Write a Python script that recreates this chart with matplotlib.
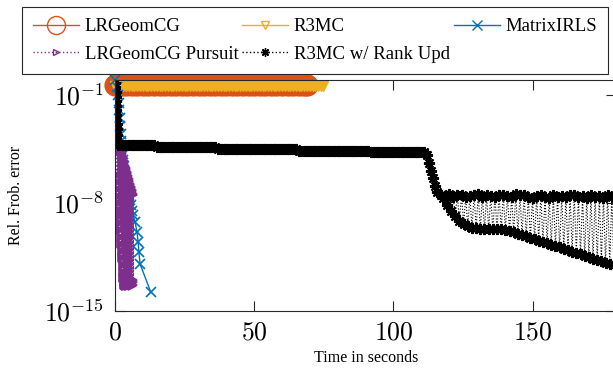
import numpy as np
import matplotlib.pyplot as plt
from matplotlib.lines import Line2D

plt.rcParams['mathtext.fontset'] = 'cm'

# time in seconds / log10 of relative Frobenius error
lrg_t = [0, 2, 4, 6, 8, 10, 12, 14, 16, 18, 20, 22, 24, 26, 28, 30, 32, 34,
         36, 38, 40, 42, 44, 46, 48, 50, 52, 54, 56, 58, 60, 62, 64, 66, 68, 69]
lrg_err = [-0.37, -0.38, -0.38, -0.38, -0.38, -0.38, -0.38, -0.38, -0.38,
           -0.38, -0.38, -0.38, -0.38, -0.38, -0.38, -0.38, -0.38, -0.38,
           -0.38, -0.38, -0.38, -0.38, -0.38, -0.38, -0.38, -0.38, -0.38,
           -0.38, -0.38, -0.38, -0.38, -0.38, -0.38, -0.38, -0.38, -0.38]

r3_t = [0, 1, 2, 3, 4, 5, 6, 7, 8, 9, 10, 11, 12, 13, 14, 15, 16, 17, 18, 19,
        20, 21, 22, 23, 24, 25, 26, 27, 28, 29, 30, 31, 32, 33, 34, 35, 36, 37,
        38, 39, 40, 41, 42, 43, 44, 45, 46, 47, 48, 49, 50, 51, 52, 53, 54, 55,
        56, 57, 58, 59, 60, 61, 62, 63, 64, 65, 66, 67, 68, 69, 70, 71, 72, 73,
        74, 74.7]
r3_err = [-0.4, -0.41, -0.41, -0.41, -0.41, -0.41, -0.41, -0.41, -0.41, -0.41,
          -0.41, -0.41, -0.41, -0.41, -0.41, -0.41, -0.41, -0.41, -0.41, -0.41,
          -0.41, -0.41, -0.41, -0.41, -0.41, -0.41, -0.41, -0.41, -0.41, -0.41,
          -0.41, -0.41, -0.41, -0.41, -0.41, -0.41, -0.41, -0.41, -0.41, -0.41,
          -0.41, -0.41, -0.41, -0.41, -0.41, -0.41, -0.41, -0.41, -0.41, -0.41,
          -0.41, -0.41, -0.41, -0.41, -0.41, -0.41, -0.41, -0.41, -0.41, -0.41,
          -0.41, -0.41, -0.41, -0.41, -0.41, -0.41, -0.41, -0.41, -0.41, -0.41,
          -0.41, -0.41, -0.41, -0.41, -0.41, -0.41]

irls_t = [0.0, 0.8, 1.1, 1.3, 1.5, 1.7, 1.9, 2.1, 2.3, 2.5, 2.7, 2.9, 3.2, 3.6,
          4.0, 4.3, 4.7, 5.1, 5.4, 5.8, 6.2, 6.5, 7.2, 7.9, 8.3, 8.6, 9.0, 12.9]
irls_err = [0.0, -0.5, -1.0, -1.5, -2.0, -2.5, -3.0, -3.5, -4.0, -4.4, -4.8,
            -5.2, -5.6, -6.0, -6.4, -6.7, -7.1, -7.5, -7.8, -8.1, -8.5, -8.8,
            -9.2, -9.9, -10.5, -11.2, -11.95, -13.8]

# LRGeomCG Pursuit: first iterations, then it swings between two envelopes
pur_head_t = [0.0, 0.15, 0.3, 0.45, 0.6]
pur_head_err = [-0.3, -1.2, -2.1, -3.0, -3.7]
pur_hi_t = [0.7, 0.85, 1.0, 1.15, 1.3, 1.45, 1.6, 1.75, 1.9, 2.05, 2.2, 2.35,
            2.5, 2.65, 2.8, 2.95, 3.1, 3.25, 3.4, 3.55, 3.7, 3.85, 4.0, 4.15,
            4.3, 4.45, 4.6, 4.75, 4.9, 5.05, 5.2, 5.35, 5.5, 5.65, 5.8, 5.95,
            6.1, 6.25, 6.4, 6.55]
pur_hi_err = [-3.9, -3.9, -3.9, -4.0, -4.1, -4.19, -4.29, -4.39, -4.49, -4.59,
              -4.69, -4.78, -4.88, -4.98, -5.08, -5.18, -5.27, -5.37, -5.47,
              -5.57, -5.67, -5.77, -5.86, -5.96, -6.06, -6.16, -6.26, -6.35,
              -6.45, -6.55, -6.65, -6.75, -6.85, -6.94, -7.04, -7.14, -7.24,
              -7.34, -7.43, -7.5]
pur_lo_t = [0.775, 0.925, 1.075, 1.225, 1.375, 1.525, 1.675, 1.825, 1.975,
            2.125, 2.275, 2.425, 2.575, 2.725, 2.875, 3.025, 3.175, 3.325,
            3.475, 3.625, 3.775, 3.925, 4.075, 4.225, 4.375, 4.525, 4.675,
            4.825, 4.975, 5.125, 5.275, 5.425, 5.575, 5.725, 5.875, 6.025,
            6.175, 6.325, 6.475, 6.625]
pur_lo_err = [-6.2, -6.65, -7.09, -7.54, -7.98, -8.43, -8.87, -9.32, -9.77,
              -10.21, -10.66, -11.1, -11.55, -11.99, -12.44, -12.88, -13.3,
              -13.2, -13.4, -13.3, -13.1, -13.3, -13.4, -13.2, -13.3, -13.1,
              -13.35, -13.2, -13.3, -13.4, -13.2, -13.3, -13.1, -13.3, -13.25,
              -13.4, -13.2, -13.3, -13.15, -13.0]

# R3MC w/ Rank Upd: fast start, long plateau, drop, then rank-update swings
rk_head_t = [0.1, 0.15, 0.2, 0.25, 0.3, 0.35, 0.4, 0.45, 0.5, 0.55, 0.6, 0.7,
             0.8]
rk_head_err = [-0.2, -0.5, -0.8, -1.1, -1.4, -1.7, -2.0, -2.3, -2.6, -2.9,
               -3.2, -3.6, -4.0]
rk_plat_t = [1, 2, 3, 4, 5, 6, 7, 8, 9, 10, 11, 12, 13, 14, 15, 16, 17, 18,
             19, 20, 21, 22, 23, 24, 25, 26, 27, 28, 29, 30, 31, 32, 33, 34,
             35, 36, 37, 38, 39, 40, 41, 42, 43, 44, 45, 46, 47, 48, 49, 50,
             51, 52, 53, 54, 55, 56, 57, 58, 59, 60, 61, 62, 63, 64, 65, 66,
             67, 68, 69, 70, 71, 72, 73, 74, 75, 76, 77, 78, 79, 80, 81, 82,
             83, 84, 85, 86, 87, 88, 89, 90, 91, 92, 93, 94, 95, 96, 97, 98,
             99, 100, 101, 102, 103, 104, 105, 106, 107, 108, 109, 110, 111,
             112, 112.8, 113.5, 114.2, 115, 115.8]
rk_plat_err = [-4.25, -4.25, -4.25, -4.25, -4.25, -4.25, -4.25, -4.25, -4.25,
               -4.25, -4.25, -4.25, -4.25, -4.25,
               -4.37, -4.37, -4.37, -4.37, -4.37, -4.37, -4.37, -4.37, -4.37,
               -4.37, -4.37, -4.37, -4.37, -4.37, -4.37, -4.37, -4.37, -4.37,
               -4.37, -4.37, -4.37, -4.37,
               -4.5, -4.5, -4.5, -4.5, -4.5, -4.5, -4.5, -4.5, -4.5, -4.5,
               -4.5, -4.5, -4.5, -4.5, -4.5, -4.5, -4.5, -4.5, -4.5, -4.5,
               -4.5, -4.5, -4.5, -4.5, -4.5, -4.5, -4.5, -4.5, -4.5,
               -4.62, -4.62, -4.62, -4.62, -4.62, -4.62, -4.62, -4.62, -4.62,
               -4.62, -4.62, -4.62, -4.62, -4.62, -4.62, -4.62, -4.62, -4.62,
               -4.62, -4.62, -4.62, -4.62, -4.62, -4.62, -4.62, -4.62,
               -4.69, -4.69, -4.69, -4.69, -4.69, -4.69, -4.69, -4.69, -4.69,
               -4.69, -4.69, -4.69, -4.69, -4.69, -4.69, -4.69, -4.69, -4.69,
               -4.69, -4.72,
               -4.9, -5.4, -5.9, -6.4, -6.9, -7.3]
rk_hi_t = [117, 118.5, 120, 121.5, 123, 124.5, 126, 127.5, 129, 130.5, 132,
           133.5, 135, 136.5, 138, 139.5, 141, 142.5, 144, 145.5, 147, 148.5,
           150, 151.5, 153, 154.5, 156, 157.5, 159, 160.5, 162, 163.5, 165,
           166.5, 168, 169.5, 171, 172.5, 174, 175.5, 177, 178.5]
rk_hi_err = [-7.45, -7.55, -7.4, -7.6, -7.5, -7.45, -7.6, -7.55, -7.5, -7.4,
             -7.6, -7.5, -7.55, -7.6, -7.5, -7.45, -7.55, -7.6, -7.4, -7.5,
             -7.45, -7.6, -7.7, -7.55, -7.5, -7.6, -7.65, -7.5, -7.6, -7.55,
             -7.6, -7.5, -7.45, -7.6, -7.55, -7.7, -7.5, -7.6, -7.55, -7.65,
             -7.5, -7.6]
rk_lo_t = [117.75, 119.25, 120.75, 122.25, 123.75, 125.25, 126.75, 128.25,
           129.75, 131.25, 132.75, 134.25, 135.75, 137.25, 138.75, 140.25,
           141.75, 143.25, 144.75, 146.25, 147.75, 149.25, 150.75, 152.25,
           153.75, 155.25, 156.75, 158.25, 159.75, 161.25, 162.75, 164.25,
           165.75, 167.25, 168.75, 170.25, 171.75, 173.25, 174.75, 176.25,
           177.75, 179.25]
rk_lo_err = [-7.7, -8.1, -8.53, -8.85, -9.15, -9.37, -9.52, -9.62, -9.65,
             -9.68, -9.7, -9.7, -9.7, -9.7, -9.7, -9.72, -9.8, -9.89, -9.98,
             -10.07, -10.16, -10.25, -10.34, -10.43, -10.52, -10.61, -10.7,
             -10.79, -10.88, -10.97, -11.06, -11.15, -11.24, -11.33, -11.42,
             -11.51, -11.6, -11.69, -11.78, -11.87, -11.96, -12.05]

labels = ['LRGeomCG', 'R3MC', 'MatrixIRLS', 'LRGeomCG Pursuit',
          'R3MC w/ Rank Upd']
xticks = [0, 50, 100, 150]
xticklabels = [r'$0$', r'$50$', r'$100$', r'$150$']
yticks = [1e-15, 1e-8, 1e-1]
yticklabels = [r'$10^{-15}$', r'$10^{-8}$', r'$10^{-1}$']

c_lrg = '#D95319'
c_r3 = '#EDB120'
c_irls = '#0072BD'
c_pur = '#7E2F8E'
c_ax = '#262626'


def zig(a, b):
    return np.ravel(np.column_stack((a, b)))


pur_t = np.concatenate((pur_head_t, zig(pur_hi_t, pur_lo_t)))
pur_err = np.concatenate((pur_head_err, zig(pur_hi_err, pur_lo_err)))
rk_t = np.concatenate((rk_head_t, rk_plat_t, zig(rk_hi_t, rk_lo_t)))
rk_err = np.concatenate((rk_head_err, rk_plat_err, zig(rk_hi_err, rk_lo_err)))

fig = plt.figure(figsize=(6.13, 3.68), dpi=100)
ax = fig.add_axes([115 / 613, 1 - 311 / 368, 501 / 613, 231.4 / 368])

ax.plot(lrg_t, 10.0 ** np.array(lrg_err), color=c_lrg, lw=1, marker='o',
        ms=15, mfc=c_lrg, mec=c_lrg, clip_on=False)
ax.plot(r3_t, 10.0 ** np.array(r3_err), color=c_r3, lw=1, marker='v',
        ms=6.5, mfc=c_r3, mec=c_r3, clip_on=False)
ax.plot(irls_t, 10.0 ** np.array(irls_err), color=c_irls, lw=1, marker='x',
        ms=7, mew=1.2, clip_on=False)
ax.plot(pur_t, 10.0 ** pur_err, color=c_pur, lw=1, ls=':', marker='>',
        ms=5.5, mfc=c_pur, mew=1.2)
ax.plot(rk_t, 10.0 ** rk_err, color='k', lw=0.8, ls=':', marker=(8, 2, 0),
        ms=8, mew=1.5)

ax.set_yscale('log')
ax.set_xlim(0, 180)
ax.set_ylim(1e-15, 1e0)
ax.set_xticks(xticks)
ax.set_xticklabels(xticklabels)
ax.set_yticks(yticks)
ax.set_yticklabels(yticklabels)
ax.minorticks_off()
ax.tick_params(direction='in', length=7, width=0.8, color=c_ax,
               labelcolor='black', labelsize=18.5, top=True, right=True)
ax.tick_params(axis='x', pad=6)
ax.tick_params(axis='y', pad=8)
for s in ax.spines.values():
    s.set_color(c_ax)
    s.set_linewidth(0.8)

ax.set_xlabel('Time in seconds', family='Liberation Serif', fontsize=11.5,
              va='center')
ax.set_ylabel('Rel. Frob. error', family='Liberation Serif', fontsize=11.5,
              va='center')
ax.xaxis.set_label_coords((366 - 115) / 501, (311 - 358) / 231.4)
ax.yaxis.set_label_coords((16 - 115) / 501, 0.5)

handles = [
    Line2D([], [], color=c_lrg, lw=1, marker='o', ms=13, mfc='none'),
    Line2D([], [], color=c_r3, lw=1, marker='v', ms=6, mfc='none'),
    Line2D([], [], color=c_irls, lw=1, marker='x', ms=7),
    Line2D([], [], color=c_pur, lw=1, ls=':', marker='>', ms=5, mfc='none'),
    Line2D([], [], color='k', lw=1, ls=':', marker=(8, 2, 0), ms=6),
]
order = [0, 3, 1, 4, 2]
leg = fig.legend([handles[i] for i in order], [labels[i] for i in order],
                 ncol=3, loc='upper left', mode='expand',
                 bbox_to_anchor=(22 / 613, 1 - 72 / 368, 586 / 613, 65 / 368),
                 bbox_transform=fig.transFigure, borderaxespad=0,
                 fancybox=False, edgecolor=c_ax, framealpha=1,
                 prop={'family': 'Liberation Serif', 'size': 13.5},
                 handlelength=2.45, handletextpad=0.3, columnspacing=0.3,
                 borderpad=0.6, labelspacing=0.55)
leg.get_frame().set_linewidth(0.8)

fig.savefig('out.png', dpi=100)
